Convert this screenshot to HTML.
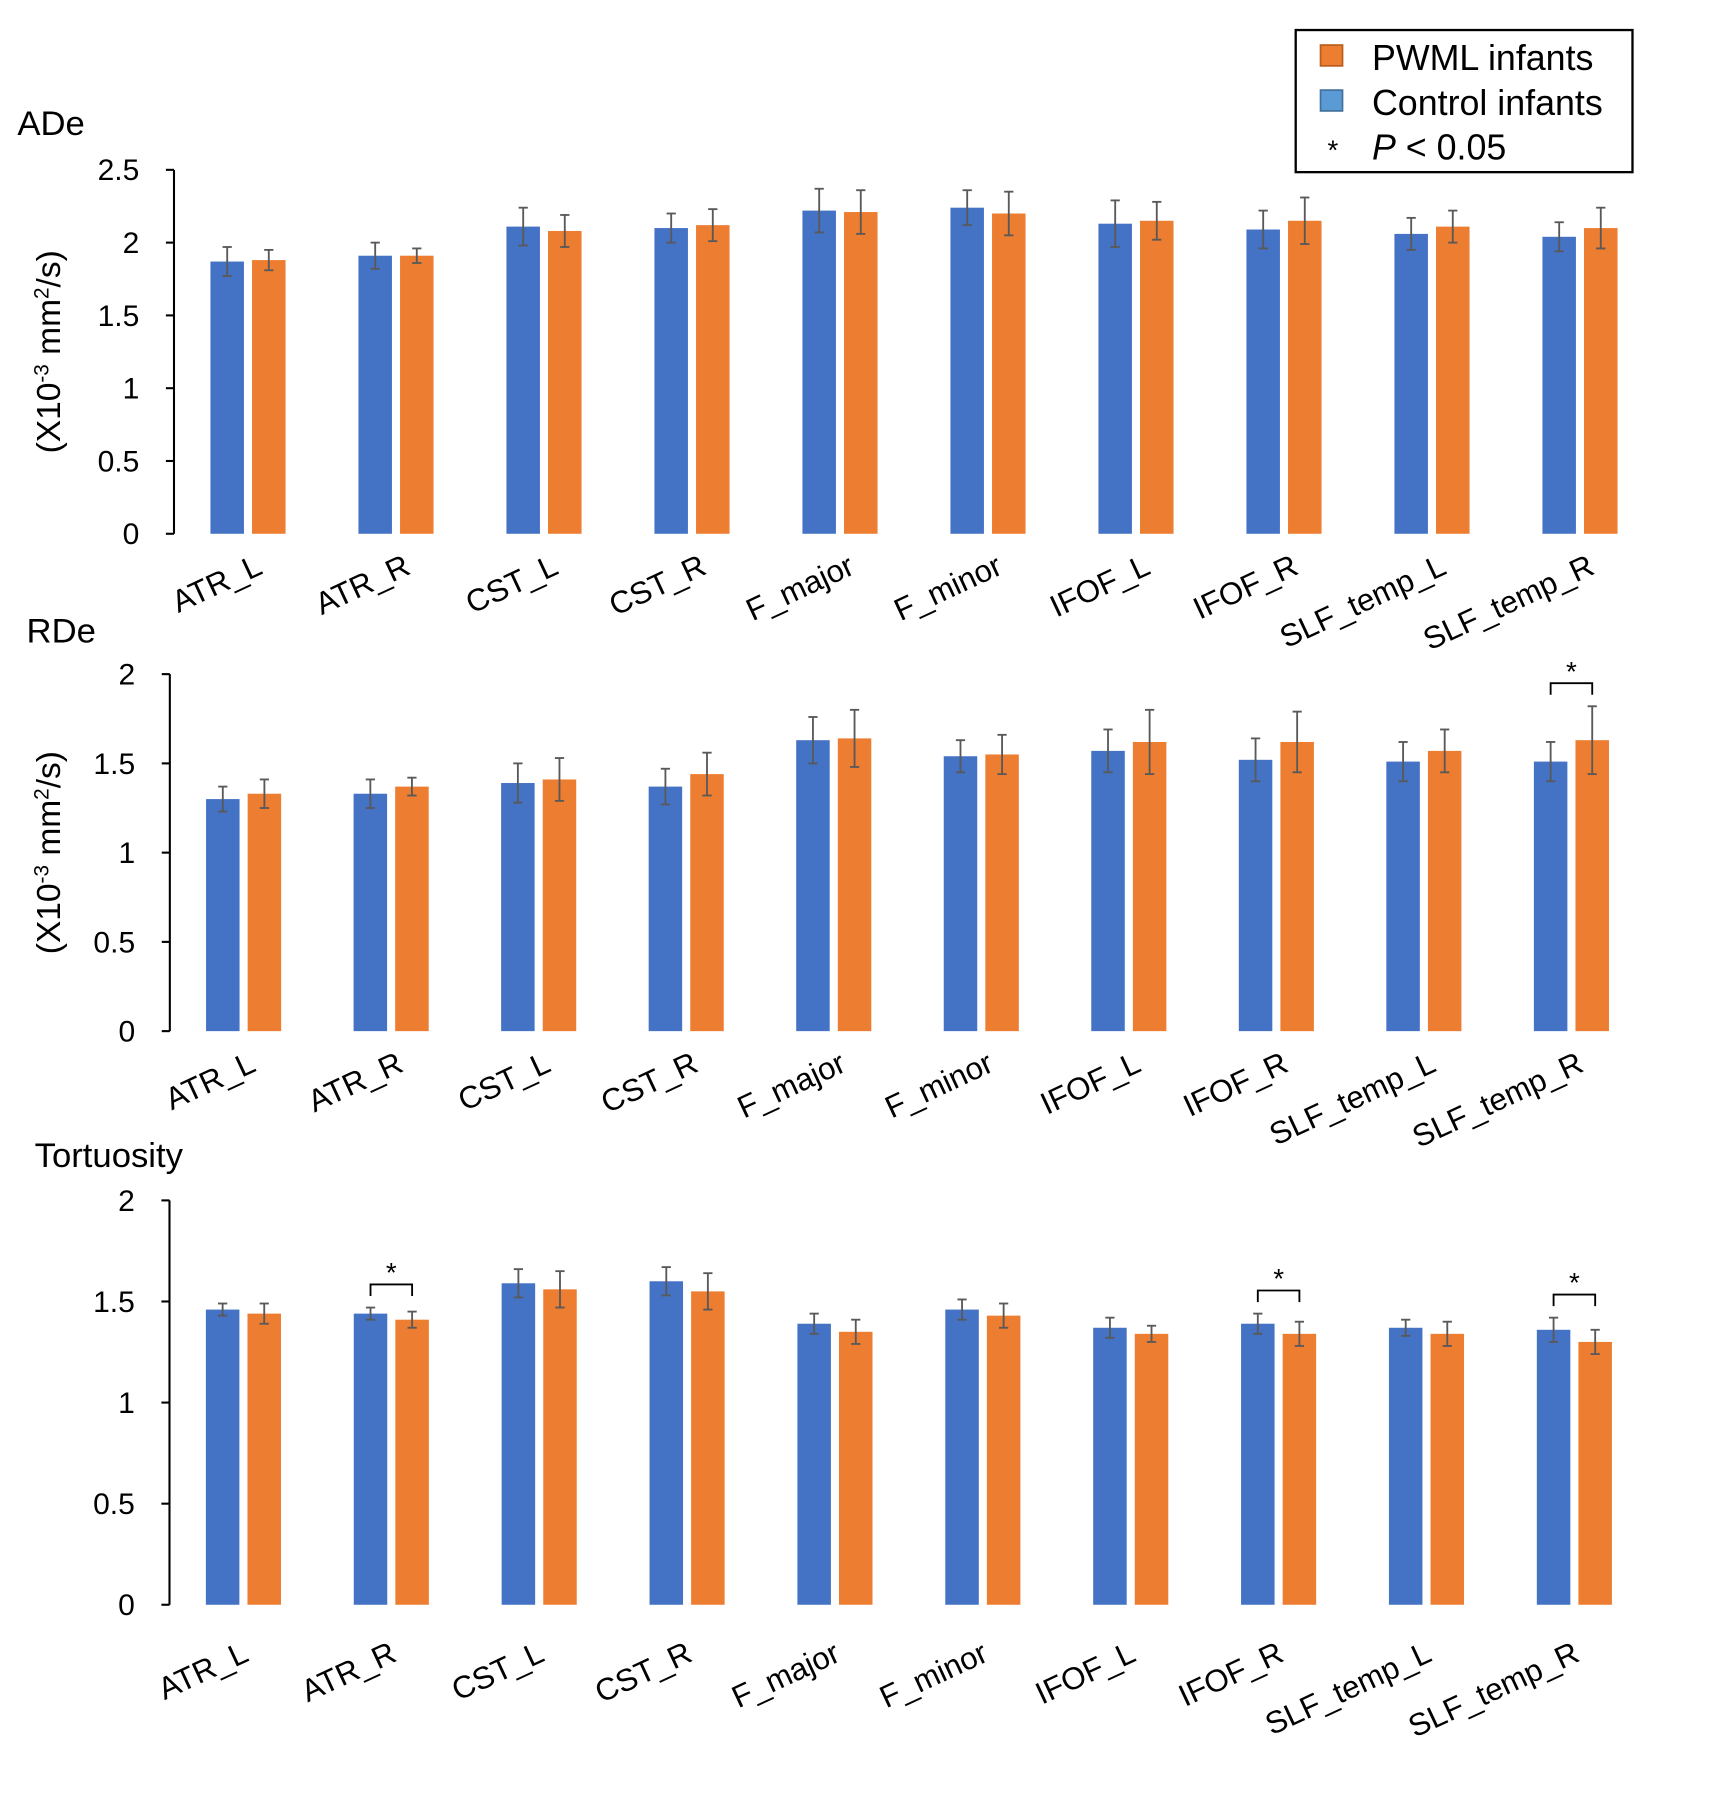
<!DOCTYPE html>
<html><head><meta charset="utf-8"><style>
html,body{margin:0;padding:0;background:#fff}
svg{display:block;font-family:"Liberation Sans",Arial,sans-serif}
</style></head><body>
<svg id="chart" width="1733" height="1820" viewBox="0 0 1500 1575.3" preserveAspectRatio="none" xmlns="http://www.w3.org/2000/svg">
<g>
<rect x="1121.5" y="26" width="291.5" height="123" fill="#fff" stroke="#000" stroke-width="2"/>
<rect x="1143" y="39" width="19" height="18" fill="#ED7D31" stroke="#B85F20" stroke-width="1.5"/>
<text x="1187.5" y="60.5" font-size="31">PWML infants</text>
<rect x="1143" y="78" width="19" height="18" fill="#5B9BD5" stroke="#41719C" stroke-width="1.5"/>
<text x="1187.5" y="99.5" font-size="31">Control infants</text>
<text x="1149" y="138" font-size="24">*</text>
<text x="1187.5" y="138" font-size="31"><tspan font-style="italic">P</tspan> &lt; 0.05</text>
</g>
</svg>
<script>
const categories=["ATR_L","ATR_R","CST_L","CST_R","F_major","F_minor","IFOF_L","IFOF_R","SLF_temp_L","SLF_temp_R"];
const adeControl=[1.87,1.91,2.11,2.10,2.22,2.24,2.13,2.09,2.06,2.04];
const adeControlErr=[0.10,0.09,0.13,0.10,0.15,0.12,0.16,0.13,0.11,0.10];
const adePwml=[1.88,1.91,2.08,2.12,2.21,2.20,2.15,2.15,2.11,2.10];
const adePwmlErr=[0.07,0.05,0.11,0.11,0.15,0.15,0.13,0.16,0.11,0.14];
const rdeControl=[1.30,1.33,1.39,1.37,1.63,1.54,1.57,1.52,1.51,1.51];
const rdeControlErr=[0.07,0.08,0.11,0.10,0.13,0.09,0.12,0.12,0.11,0.11];
const rdePwml=[1.33,1.37,1.41,1.44,1.64,1.55,1.62,1.62,1.57,1.63];
const rdePwmlErr=[0.08,0.05,0.12,0.12,0.16,0.11,0.18,0.17,0.12,0.19];
const torControl=[1.46,1.44,1.59,1.60,1.39,1.46,1.37,1.39,1.37,1.36];
const torControlErr=[0.03,0.03,0.07,0.07,0.05,0.05,0.05,0.05,0.04,0.06];
const torPwml=[1.44,1.41,1.56,1.55,1.35,1.43,1.34,1.34,1.34,1.30];
const torPwmlErr=[0.05,0.04,0.09,0.09,0.06,0.06,0.04,0.06,0.06,0.06];
const adeTicks=["0","0.5","1","1.5","2","2.5"];
const rdeTicks=["0","0.5","1","1.5","2"];
const torTicks=["0","0.5","1","1.5","2"];
const rdeSig=[9];
const torSig=[1,7,9];

const NS="http://www.w3.org/2000/svg";
const svg=document.getElementById('chart');
function mk(tag,attrs,parent){const e=document.createElementNS(NS,tag);for(const k in attrs)e.setAttribute(k,attrs[k]);(parent||svg).appendChild(e);return e;}

function panel(cfg){
  const g=mk('g',{});
  
  
  const y=v=>cfg.y0-(v/cfg.max)*(cfg.y0-cfg.yTop);
  const cw=cfg.cw, x=i=>cfg.ax+cw/2+i*cw;
  const t=mk('text',{x:cfg.tx,y:cfg.ty,'font-size':30},g);t.textContent=cfg.title;
  
  
  if(cfg.ylabel){
    const yl=mk('text',{transform:`translate(52,${(cfg.y0+cfg.yTop)/2}) rotate(-90)`,'text-anchor':'middle','font-size':29},g);
    yl.innerHTML='(X10<tspan dy="-10" font-size="18">-3</tspan><tspan dy="10"> mm</tspan><tspan dy="-10" font-size="18">2</tspan><tspan dy="10">/s)</tspan>';
    
    
  }
  mk('line',{x1:cfg.ax,y1:cfg.yTop,x2:cfg.ax,y2:cfg.y0,stroke:'#000','stroke-width':1.8},g);
  cfg.ticks.forEach(tk=>{
    const v=parseFloat(tk),yy=y(v);
    mk('line',{x1:cfg.ax-7,y1:yy,x2:cfg.ax,y2:yy,stroke:'#000','stroke-width':1.8},g);
    const tl=mk('text',{x:cfg.ax-30,y:yy+9,'text-anchor':'end','font-size':26},g);tl.textContent=tk;
    
    
  });
  categories.forEach((c,i)=>{
    const cx=x(i);
    [[cfg.ctrl,cfg.ctrlErr,'#4472C4',-18],[cfg.pw,cfg.pwErr,'#ED7D31',18]].forEach(([vals,errs,col,off],s)=>{
      const bx=cx+off;
      const r=mk('rect',{x:bx-14.5,y:y(vals[i]),width:29,height:cfg.y0-y(vals[i]),fill:col},g);
      
      
      const hi=y(vals[i]+errs[i]),lo=y(vals[i]-errs[i]);
      mk('line',{x1:bx,y1:hi,x2:bx,y2:lo,stroke:'#595959','stroke-width':1.6},g);
      mk('line',{x1:bx-4,y1:hi,x2:bx+4,y2:hi,stroke:'#595959','stroke-width':1.6},g);
      mk('line',{x1:bx-4,y1:lo,x2:bx+4,y2:lo,stroke:'#595959','stroke-width':1.6},g);
    });
    const lbl=mk('text',{transform:`translate(${cx+cfg.ldx},${cfg.y0+cfg.ldy}) rotate(-25)`,'text-anchor':'end','font-size':27},g);
    lbl.textContent=c;
    
    
  });
  (cfg.sig||[]).forEach(i=>{
    const cx=x(i);
    const top=Math.min(y(cfg.ctrl[i]+cfg.ctrlErr[i]),y(cfg.pw[i]+cfg.pwErr[i]));
    const by=top-20;
    mk('path',{d:`M${cx-18},${by+10}V${by}H${cx+18}V${by+10}`,fill:'none',stroke:'#000','stroke-width':1.6},g);
    const st=mk('text',{x:cx,y:by-2,'text-anchor':'middle','font-size':24},g);st.textContent='*';
    
    
  });
}
panel({name:'ade',title:'ADe',tx:15,ty:117,ylabel:true,ax:150.6,y0:462,yTop:147,max:2.5,cw:128.1,ldx:14,ldy:34,ticks:adeTicks,ctrl:adeControl,ctrlErr:adeControlErr,pw:adePwml,pwErr:adePwmlErr});
panel({name:'rde',title:'RDe',tx:23,ty:556,ylabel:true,ax:147,y0:892.5,yTop:583.5,max:2,cw:127.7,ldx:12,ldy:34,ticks:rdeTicks,ctrl:rdeControl,ctrlErr:rdeControlErr,pw:rdePwml,pwErr:rdePwmlErr,sig:rdeSig});
panel({name:'tortuosity',title:'Tortuosity',tx:30,ty:1010,ylabel:false,ax:146.7,y0:1389,yTop:1039,max:2,cw:128,ldx:6,ldy:48,ticks:torTicks,ctrl:torControl,ctrlErr:torControlErr,pw:torPwml,pwErr:torPwmlErr,sig:torSig});
</script>
</body></html>
